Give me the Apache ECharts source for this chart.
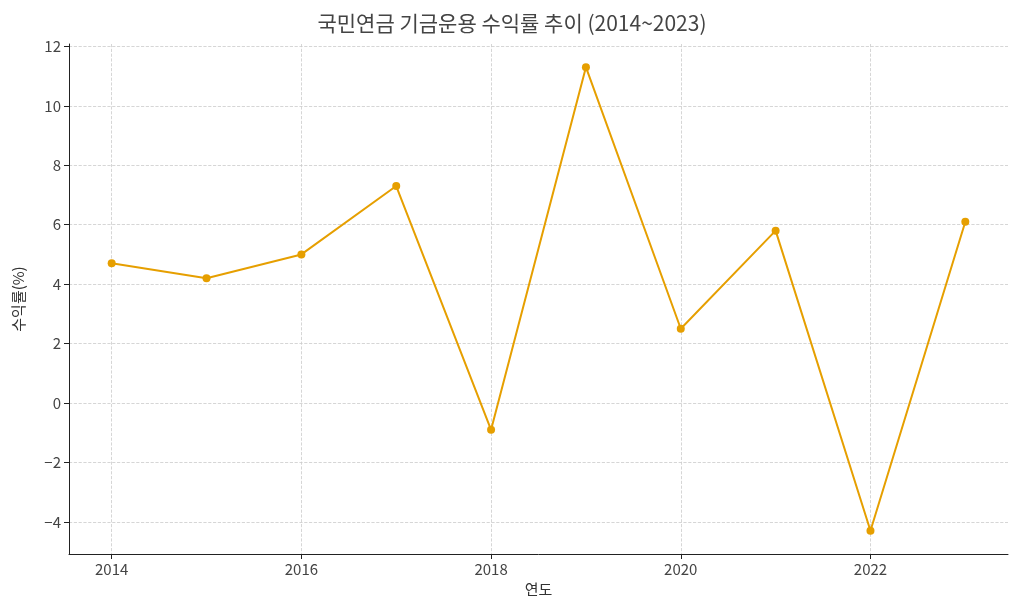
<!DOCTYPE html>
<html>
<head>
<meta charset="utf-8">
<script src="https://cdn.jsdelivr.net/npm/echarts@6/dist/echarts.min.js"></script>
<style>html,body{margin:0;padding:0;background:#fff}#chart{width:1024px;height:614px}</style>
</head>
<body>
<div id="chart"></div>
<script>
const years = [2014, 2015, 2016, 2017, 2018, 2019, 2020, 2021, 2022, 2023];
const returns = [4.7, 4.2, 5.0, 7.3, -0.9, 11.3, 2.5, 5.8, -4.3, 6.1];
const xTicks = [2014, 2016, 2018, 2020, 2022];
const yTicks = [-4, -2, 0, 2, 4, 6, 8, 10, 12];

const chart = echarts.init(document.getElementById('chart'));
const font = "'Noto Sans CJK KR', 'Noto Sans', sans-serif";
const gridLine = { show: true, lineStyle: { color: '#cccccc', type: 'dashed', width: 0.8 } };

chart.setOption({
    textStyle: { fontFamily: font },
    title: {
        text: '국민연금 기금운용 수익률 추이 (2014~2023)',
        left: 'center', top: 8,
        textStyle: { fontSize: 21, fontWeight: 'normal', color: '#444', fontFamily: font }
    },
    grid: { left: 69, right: 16, top: 44, bottom: 60 },
    xAxis: {
        type: 'value', min: 2013.55, max: 2023.45,
        name: '연도', nameLocation: 'middle', nameGap: 28,
        nameTextStyle: { fontSize: 15, color: '#333' },
        axisLine: { onZero: false, lineStyle: { color: '#222' } },
        axisTick: { show: true, customValues: xTicks, lineStyle: { color: '#222' } },
        axisLabel: { customValues: xTicks, fontSize: 15, color: '#444', formatter: v => String(v) },
        splitLine: gridLine
    },
    yAxis: {
        type: 'value', min: -5.08, max: 12.08,
        name: '수익률(%)', nameLocation: 'middle', nameGap: 43, nameRotate: 90,
        nameTextStyle: { fontSize: 15, color: '#333' },
        axisLine: { show: true, lineStyle: { color: '#222' } },
        axisTick: { show: true, customValues: yTicks, lineStyle: { color: '#222' } },
        axisLabel: { customValues: yTicks, fontSize: 15, color: '#444',
            formatter: v => (v < 0 ? '\u2212' + (-v) : String(v)) },
        splitLine: gridLine
    },
    series: [{
        type: 'line',
        data: years.map((y, i) => [y, returns[i]]),
        symbol: 'circle', symbolSize: 8,
        lineStyle: { color: '#E69F00', width: 2 },
        itemStyle: { color: '#E69F00' }
    }]
});
</script>
</body>
</html>
